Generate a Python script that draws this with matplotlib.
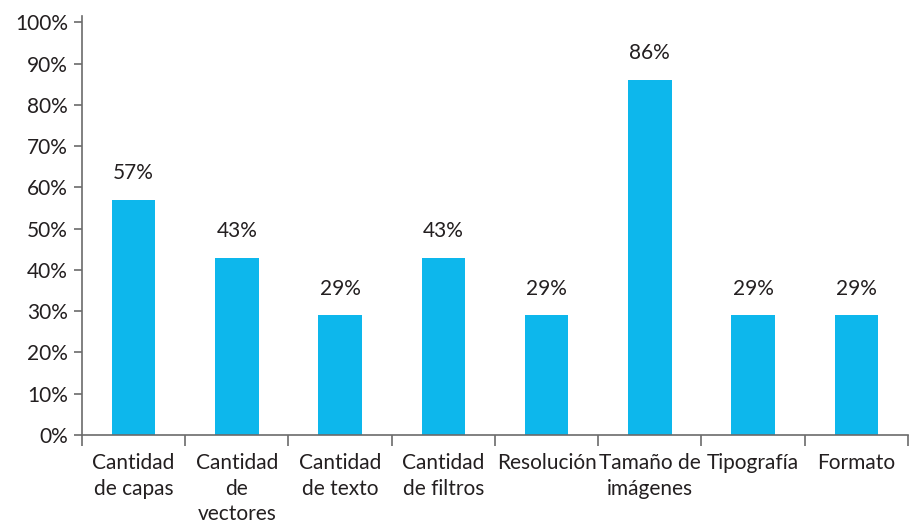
import numpy as np
import matplotlib.pyplot as plt
from matplotlib.ticker import FixedLocator, PercentFormatter

plt.rcParams['font.family'] = ['Lato', 'DejaVu Sans']

categories = ["Cantidad\nde capas", "Cantidad\nde\nvectores", "Cantidad\nde texto",
              "Cantidad\nde filtros", "Resolución", "Tamaño de\nimágenes",
              "Tipografía", "Formato"]
values = [0.57, 0.43, 0.29, 0.43, 0.29, 0.86, 0.29, 0.29]
labels = ["57%", "43%", "29%", "43%", "29%", "86%", "29%", "29%"]

bar_color = "#0DB7EC"
axis_color = "#6b6b6b"
text_color = "#231F20"

fig = plt.figure(figsize=(9.11, 5.25), dpi=100)
ax = fig.add_axes([0.09, 0.1714, 0.9067, 0.798])

x = np.arange(len(categories))
bars = ax.bar(x, values, width=0.42, color=bar_color)

for xi, v, lab in zip(x, values, labels):
    ax.annotate(lab, (xi, v), xytext=(0, 12), textcoords="offset points",
                ha="center", va="bottom", fontsize=15, color=text_color)

ax.set_xlim(-0.5, len(categories) - 0.5)
ax.set_ylim(0, 1.015)
ax.set_yticks(np.arange(0, 1.01, 0.1))
ax.yaxis.set_major_formatter(PercentFormatter(1.0, decimals=0))

ax.set_xticks(x)
ax.set_xticklabels(categories, fontsize=15, color=text_color, linespacing=1.35,
                   va="top")
ax.xaxis.set_minor_locator(FixedLocator(np.arange(-0.5, len(categories), 1.0)))
ax.tick_params(axis="x", which="major", length=0, pad=13)
ax.tick_params(axis="x", which="minor", length=8, width=1.2, color=axis_color,
               direction="out")
ax.tick_params(axis="y", length=6, width=1.2, color=axis_color, pad=4,
               labelsize=15, labelcolor=text_color)

for side in ["top", "right"]:
    ax.spines[side].set_visible(False)
for side in ["left", "bottom"]:
    ax.spines[side].set_color(axis_color)
    ax.spines[side].set_linewidth(1.2)

fig.savefig("out.png", dpi=100, facecolor="white")
